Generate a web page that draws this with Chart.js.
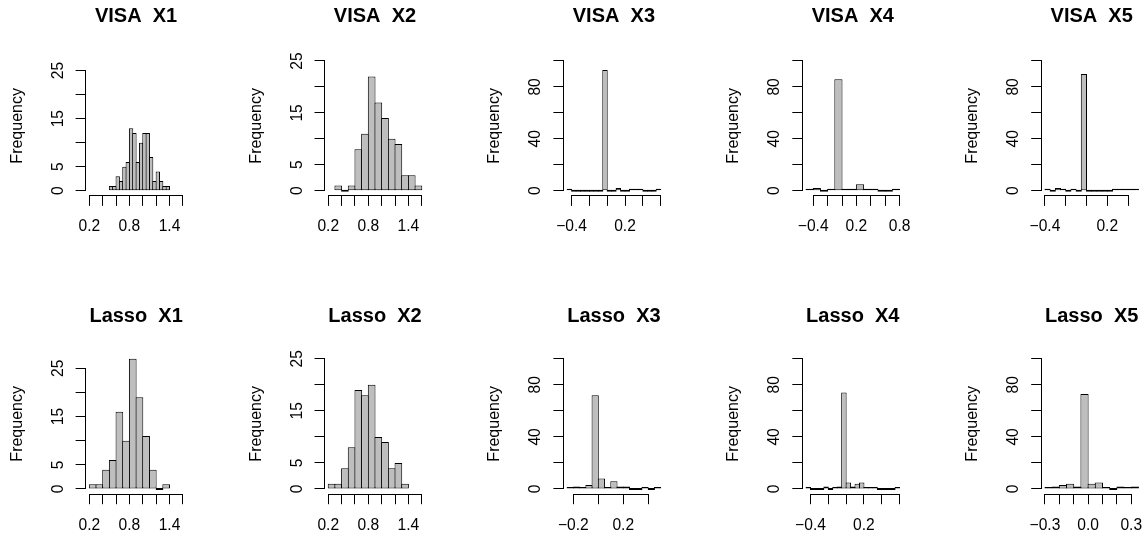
<!DOCTYPE html>
<html>
<head>
<meta charset="utf-8">
<script src="https://cdn.jsdelivr.net/npm/chart.js@4.4.0/dist/chart.umd.min.js"></script>
<style>
    html, body { margin: 0; padding: 0; background: #fff; overflow: hidden; }
    #wrap { position: relative; width: 1146px; height: 536px; }
    #wrap canvas { position: absolute; }
</style>
</head>
<body>
<div id="wrap"></div>
<script>
// ---------------------------------------------------
// data: histogram counts per panel
// ---------------------------------------------------

const panelTitles = [
    "VISA  X1", "VISA  X2", "VISA  X3", "VISA  X4", "VISA  X5",
    "Lasso  X1", "Lasso  X2", "Lasso  X3", "Lasso  X4", "Lasso  X5"
];

// first break and bin width of every histogram
const binStart = [0.5, 0.3, -0.45, -0.5, -0.4, 0.2, 0.2, -0.25, -0.45, -0.3];
const binWidth = [0.05, 0.1, 0.05, 0.1, 0.05, 0.1, 0.1, 0.05, 0.05, 0.05];

const visaX1 = [1, 1, 3, 2, 5, 6, 13, 12, 6, 10, 12, 12, 7, 2, 4, 2, 1, 1];
const visaX2 = [1, 0, 1, 8, 11, 22, 17, 14, 10, 9, 3, 3, 1];
const visaX3 = [1, 0, 0, 0, 0, 0, 0, 0, 93, 0, 0, 2, 0, 0, 1, 1, 1, 0, 0, 0, 1];
const visaX4 = [1, 2, 0, 1, 86, 1, 1, 5, 1, 1, 0, 0, 1];
const visaX5 = [1, 0, 2, 1, 0, 1, 0, 90, 0, 0, 0, 0, 0, 1, 1, 1, 1, 1];
const lassoX1 = [1, 1, 4, 6, 16, 10, 27, 19, 11, 4, 0, 1];
const lassoX2 = [1, 1, 4, 8, 19, 18, 20, 10, 9, 4, 5, 1];
const lassoX3 = [1, 2, 1, 3, 72, 8, 1, 6, 2, 2, 0, 0, 1, 0, 1];
const lassoX4 = [1, 0, 0, 0, 2, 0, 1, 2, 74, 5, 2, 4, 5, 1, 1, 1, 0, 0, 0, 0, 1];
const lassoX5 = [1, 2, 3, 4, 2, 73, 4, 5, 1, 0, 2, 1, 2];

const panelCounts = [visaX1, visaX2, visaX3, visaX4, visaX5, lassoX1, lassoX2, lassoX3, lassoX4, lassoX5];

// axis limits (xlim / ylim as in the R plots)
const xLimits = [
    [0.2, 1.6], [0.2, 1.6], [-0.45, 0.6], [-0.5, 0.8], [-0.4, 0.5],
    [0.2, 1.6], [0.2, 1.6], [-0.25, 0.5], [-0.45, 0.6], [-0.3, 0.35]
];
const yLimits = [
    [0, 27], [0, 25], [0, 100], [0, 100], [0, 100],
    [0, 27], [0, 25], [0, 100], [0, 100], [0, 100]
];

// tick values and the labels R kept
const ticksUnit = [0.2, 0.4, 0.6, 0.8, 1.0, 1.2, 1.4, 1.6];
const labelsUnit = ["0.2", "", "", "0.8", "", "", "1.4", ""];

const xTicks = [
    ticksUnit, ticksUnit,
    [-0.4, -0.2, 0, 0.2, 0.4, 0.6],
    [-0.4, -0.2, 0, 0.2, 0.4, 0.6, 0.8],
    [-0.4, -0.2, 0, 0.2, 0.4],
    ticksUnit, ticksUnit,
    [-0.2, 0, 0.2, 0.4],
    [-0.4, -0.2, 0, 0.2, 0.4, 0.6],
    [-0.3, -0.2, -0.1, 0, 0.1, 0.2, 0.3]
];
const xTickLabels = [
    labelsUnit, labelsUnit,
    ["\u22120.4", "", "", "0.2", "", ""],
    ["\u22120.4", "", "", "0.2", "", "", "0.8"],
    ["\u22120.4", "", "", "0.2", ""],
    labelsUnit, labelsUnit,
    ["\u22120.2", "", "0.2", ""],
    ["\u22120.4", "", "", "0.2", "", ""],
    ["\u22120.3", "", "", "0.0", "", "", "0.3"]
];

const ticksSmall = [0, 5, 10, 15, 20, 25];
const labelsSmall = ["0", "5", "", "15", "", "25"];
const ticksLarge = [0, 20, 40, 60, 80, 100];
const labelsLarge = ["0", "", "40", "", "80", ""];

const yTicks = [ticksSmall, ticksSmall, ticksLarge, ticksLarge, ticksLarge,
                ticksSmall, ticksSmall, ticksLarge, ticksLarge, ticksLarge];
const yTickLabels = [labelsSmall, labelsSmall, labelsLarge, labelsLarge, labelsLarge,
                     labelsSmall, labelsSmall, labelsLarge, labelsLarge, labelsLarge];

// ---------------------------------------------------
// layout (pixels)
// ---------------------------------------------------

const FONT = "'Liberation Sans', Arial, Helvetica, sans-serif";
const plotLeft0 = 85.6, plotStep = 238.9, plotW = 101;
const canvasH = 268, xAxisH = 40;
const rows = [
    { top: 0, titleMid: 16.2, areaTop: 55.8, areaBottom: 195.9 },
    { top: 268, titleMid: 48.3, areaTop: 85.5, areaBottom: 226.2 }
];

function usr(lim) {
    const pad = (lim[1] - lim[0]) * 0.04;
    return [lim[0] - pad, lim[1] + pad];
}

function align(p) {
    return Math.round(p - 0.5) + 0.5;
}

// R draws the axis line only from the first tick to the last one
const rAxisLines = {
    id: "rAxisLines",
    afterDraw(chart) {
        const ctx = chart.ctx;
        const xs = chart.scales.x, ys = chart.scales.y, a = chart.chartArea;
        const xt = xs.ticks, yt = ys.ticks;
        ctx.save();
        ctx.strokeStyle = "#000";
        ctx.lineWidth = 1;
        ctx.lineCap = "square";
        ctx.beginPath();
        const by = align(a.bottom);
        ctx.moveTo(align(xs.getPixelForValue(xt[0].value)), by);
        ctx.lineTo(align(xs.getPixelForValue(xt[xt.length - 1].value)), by);
        const lx = align(a.left);
        ctx.moveTo(lx, align(ys.getPixelForValue(yt[0].value)));
        ctx.lineTo(lx, align(ys.getPixelForValue(yt[yt.length - 1].value)));
        ctx.stroke();
        ctx.restore();
    }
};

const wrap = document.getElementById("wrap");

panelTitles.forEach((title, i) => {

    const row = rows[Math.floor(i / 5)];
    const col = i % 5;

    const plotLeft = plotLeft0 + plotStep * col;
    const canvasLeft = Math.round(plotLeft - 86);
    const canvasW = Math.min(215, 1146 - canvasLeft);
    const yAxisW = plotLeft - canvasLeft;

    const cv = document.createElement("canvas");
    cv.width = canvasW;
    cv.height = canvasH;
    cv.style.left = canvasLeft + "px";
    cv.style.top = row.top + "px";
    wrap.appendChild(cv);

    const [xMin, xMax] = usr(xLimits[i]);
    const [yMin, yMax] = usr(yLimits[i]);

    const points = panelCounts[i].map((c, k) => ({
        x: binStart[i] + (k + 0.5) * binWidth[i],
        y: c
    }));

    // widen bars by one pixel so neighbouring borders overlap like R's centred strokes
    const binPx = binWidth[i] * plotW / (xMax - xMin);

    new Chart(cv, {
        type: "bar",
        data: {
            datasets: [{
                data: points,
                backgroundColor: "#bebebe",
                borderColor: "#000",
                borderWidth: 1,
                borderSkipped: false,
                minBarLength: 2,
                barPercentage: 1 + 1 / binPx,
                categoryPercentage: 1,
                grouped: false
            }]
        },
        options: {
            responsive: false,
            animation: false,
            devicePixelRatio: 1,
            events: [],
            layout: {
                padding: {
                    left: 0,
                    top: 0,
                    right: canvasW - yAxisW - plotW,
                    bottom: canvasH - row.areaBottom - xAxisH
                }
            },
            plugins: {
                legend: { display: false },
                tooltip: { enabled: false },
                title: {
                    display: true,
                    text: title,
                    fullSize: false,
                    color: "#000",
                    font: { family: FONT, size: 20, weight: "bold", lineHeight: 1.2 },
                    padding: { top: row.titleMid - 12, bottom: row.areaTop - row.titleMid - 12 }
                }
            },
            scales: {
                x: {
                    type: "linear",
                    min: xMin,
                    max: xMax,
                    offset: false,
                    grid: { offset: false, drawOnChartArea: false, drawTicks: true, tickLength: 10, color: "#000", lineWidth: 1 },
                    border: { display: false },
                    ticks: {
                        autoSkip: false,
                        minRotation: 0,
                        maxRotation: 0,
                        padding: 11.9,
                        color: "#000",
                        font: { family: FONT, size: 15.6 },
                        callback: (v, k) => xTickLabels[i][k]
                    },
                    afterBuildTicks: s => { s.ticks = xTicks[i].map(v => ({ value: v })); },
                    afterFit: s => { s.height = xAxisH; s.paddingLeft = 0; s.paddingRight = 0; }
                },
                y: {
                    type: "linear",
                    min: yMin,
                    max: yMax,
                    grid: { drawOnChartArea: false, drawTicks: true, tickLength: 10, color: "#000", lineWidth: 1 },
                    border: { display: false },
                    ticks: {
                        autoSkip: false,
                        minRotation: 90,
                        maxRotation: 90,
                        crossAlign: "center",
                        padding: 8.6,
                        color: "#000",
                        font: { family: FONT, size: 15.6 },
                        callback: (v, k) => yTickLabels[i][k]
                    },
                    title: {
                        display: true,
                        text: "Frequency",
                        color: "#000",
                        font: { family: FONT, size: 16, lineHeight: 1.2 },
                        padding: { top: 8.1, bottom: 0 }
                    },
                    afterBuildTicks: s => { s.ticks = yTicks[i].map(v => ({ value: v })); },
                    afterFit: s => { s.width = yAxisW; s.paddingTop = 0; s.paddingBottom = 0; }
                }
            }
        },
        plugins: [rAxisLines]
    });

});
</script>
</body>
</html>
